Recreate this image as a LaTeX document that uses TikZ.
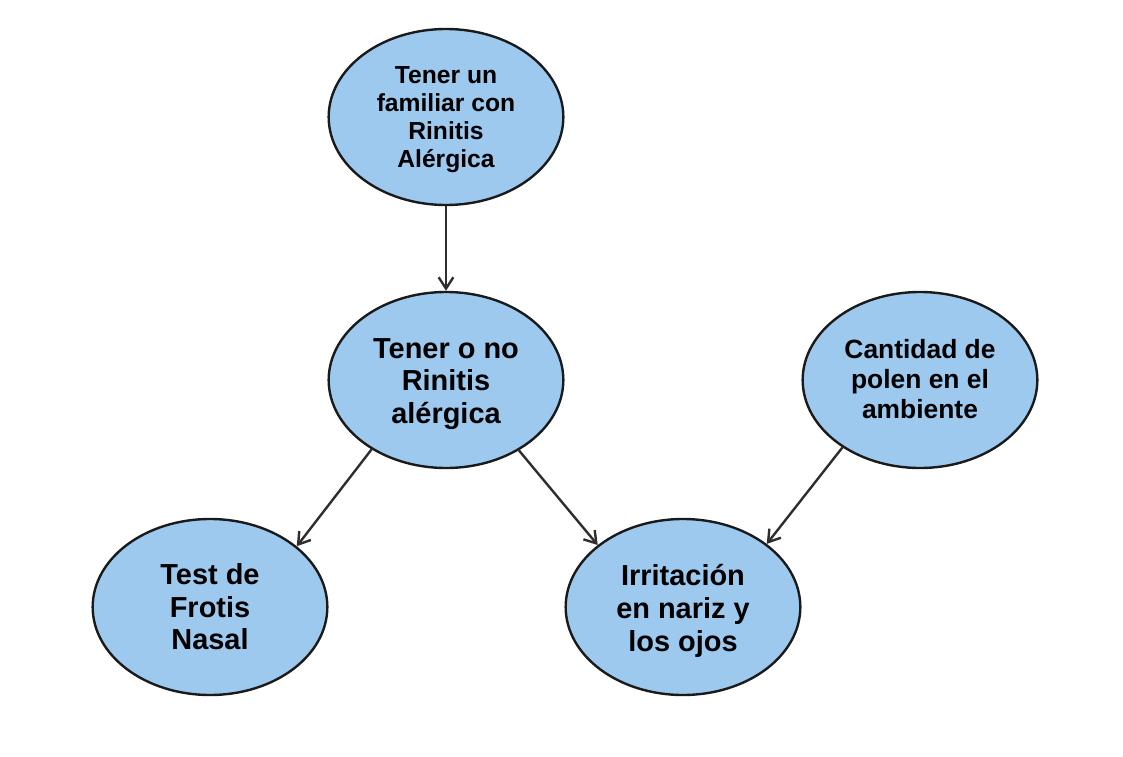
\documentclass[tikz,border=0pt]{standalone}
\usepackage{fontspec}
\setmainfont{Liberation Sans}
\usetikzlibrary{shapes.geometric,arrows.meta}
\definecolor{nodefill}{HTML}{9DC9EE}
\definecolor{nodeline}{HTML}{1A1A1A}
\definecolor{arrowcol}{HTML}{2E2E2E}
\newcommand\bubtext[2]{\raisebox{#1}[0pt][0pt]{\begin{tabular}{@{}c@{}}#2\end{tabular}}}
\tikzset{
  bubble/.style={ellipse, draw=nodeline, line width=1.8pt, fill=nodefill,
    minimum width=176pt, minimum height=132pt, inner sep=0pt,
    text=black},
  smalltxt/.style={font={\fontsize{18.5}{21}\selectfont\bfseries}},
  midtxt/.style={font={\fontsize{19.8}{22.5}\selectfont\bfseries}},
  bigtxt/.style={font={\fontsize{21.7}{24.5}\selectfont\bfseries}},
  link/.style={draw=arrowcol, line width=1.8pt,
    -{Straight Barb[length=8.5pt,width=11pt,line width=1.8pt]}}
}
\begin{document}
\begin{tikzpicture}[x=0.75pt,y=-0.75pt]
\useasboundingbox (0,0) rectangle (1123,756);
\node[bubble, smalltxt] (fam) at (446,117) {\bubtext{-6.85pt}{Tener un\\familiar con\\Rinitis\\Alérgica}};
\node[bubble, bigtxt] (ra) at (446,380) {\bubtext{-8.4pt}{Tener o no\\Rinitis\\alérgica}};
\node[bubble, midtxt] (pol) at (920,380) {\bubtext{-6.85pt}{Cantidad de\\polen en el\\ambiente}};
\node[bubble, bigtxt] (test) at (210,607) {\bubtext{-8pt}{Test de\\Frotis\\Nasal}};
\node[bubble, bigtxt] (irr) at (683,607) {\bubtext{-8.8pt}{Irritación\\en nariz y\\los ojos}};
\draw[link] (fam.south) -- (ra.north);
\draw[link] (ra.223) -- (test.35);
\draw[link] (ra.316) -- (irr.144);
\draw[link] (pol.221) -- (irr.37);
\end{tikzpicture}
\end{document}
